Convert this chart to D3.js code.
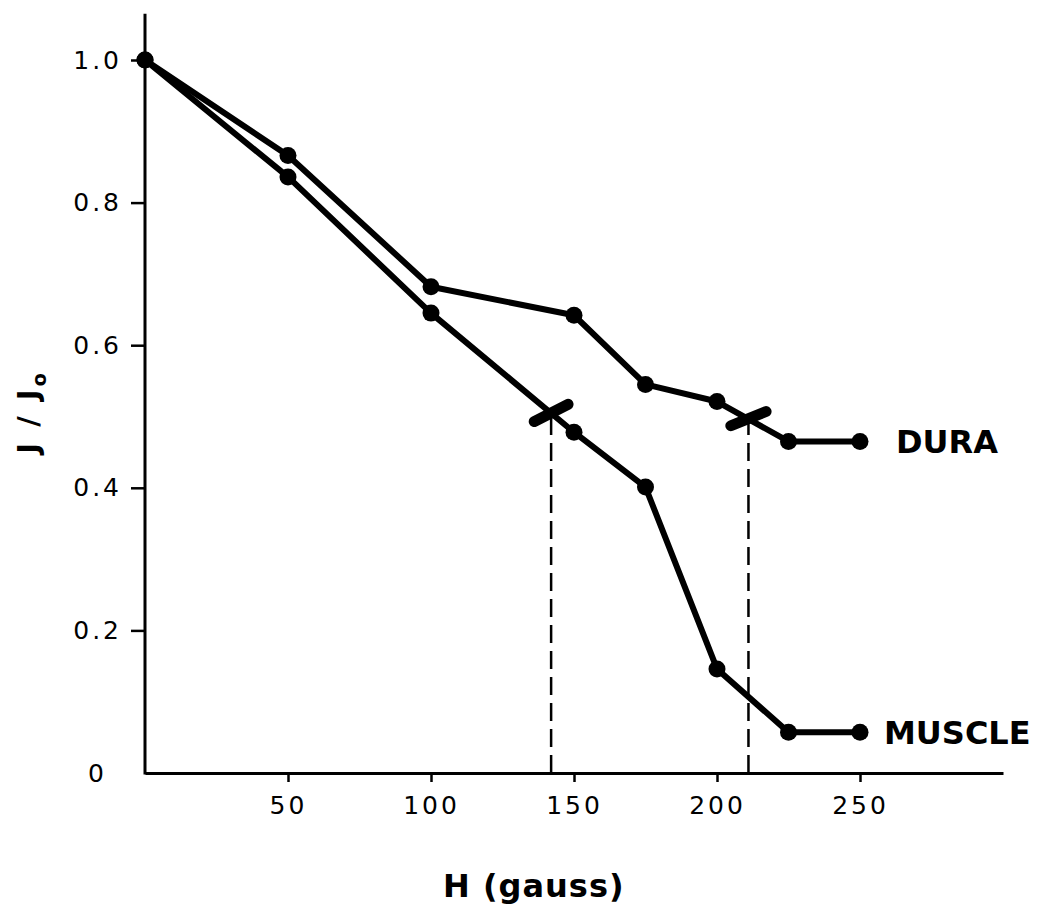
<!DOCTYPE html>
<html>
<head>
<meta charset="utf-8">
<script src="https://cdn.jsdelivr.net/npm/d3@7"></script>
<style>
  html, body { margin: 0; padding: 0; background: #fff; }
  svg { display: block; }
  .tick text { font-family: "DejaVu Sans", sans-serif; }
</style>
</head>
<body>
<div id="chart"></div>
<script>
// ---- data ----
const fieldH = [0, 50, 100, 150, 175, 200, 225, 250];
const dura   = [1.0, 0.866, 0.682, 0.642, 0.545, 0.521, 0.465, 0.465];
const muscle = [1.0, 0.836, 0.645, 0.478, 0.401, 0.146, 0.057, 0.057];
const xTicks = [50, 100, 150, 200, 250];
const yTicks = [0, 0.2, 0.4, 0.6, 0.8, 1.0];
const yTickLabels = ["0", "0.2", "0.4", "0.6", "0.8", "1.0"];
const halfH   = [142, 211];     // half-value field strengths
const halfJ   = [0.505, 0.497]; // J/Jo where the markers sit
const seriesNames = ["DURA", "MUSCLE"];

// ---- layout ----
const W = 1045, H = 909;
const x0 = 145, x1 = 1003;   // pixel range for H 0..300
const yBottom = 773, yTop = 60; // pixel range for J 0..1

const svg = d3.select("#chart").append("svg")
  .attr("width", W).attr("height", H);

const x = d3.scaleLinear().domain([0, 300]).range([x0, x1]);
const y = d3.scaleLinear().domain([0, 1]).range([yBottom, yTop]);

// x axis
const xAxis = svg.append("g")
  .attr("transform", `translate(0,${yBottom})`)
  .call(d3.axisBottom(x).tickValues(xTicks).tickSize(9).tickPadding(14).tickSizeOuter(0));
xAxis.select(".domain").attr("stroke", "#000").attr("stroke-width", 3);
xAxis.selectAll(".tick line").attr("stroke", "#000").attr("stroke-width", 2.5);
xAxis.selectAll(".tick text").attr("font-size", 25).attr("letter-spacing", 3).attr("fill", "#000");

// y axis (extends above 1.0)
const yAxis = svg.append("g")
  .attr("transform", `translate(${x0},0)`)
  .call(d3.axisLeft(y).tickValues(yTicks).tickSize(14).tickPadding(9)
        .tickFormat((d, i) => yTickLabels[i]).tickSizeOuter(0));
yAxis.select(".domain").remove();
yAxis.append("line")
  .attr("x1", 0).attr("x2", 0)
  .attr("y1", y(0) + 1.5).attr("y2", y(1.065))
  .attr("stroke", "#000").attr("stroke-width", 3);
yAxis.selectAll(".tick line").attr("stroke", "#000").attr("stroke-width", 2.5);
yAxis.selectAll(".tick text").attr("font-size", 25).attr("letter-spacing", 3).attr("fill", "#000");
// "0" label sits lower-left, without tick
yAxis.selectAll(".tick").filter(d => d === 0).select("line").remove();
yAxis.selectAll(".tick").filter(d => d === 0).select("text")
  .attr("x", -38).attr("dy", "0.32em");

// dashed drop lines
svg.selectAll("line.drop").data(halfH).enter().append("line")
  .attr("class", "drop")
  .attr("x1", d => x(d)).attr("x2", d => x(d))
  .attr("y1", y(0)).attr("y2", (d, i) => y(halfJ[i]))
  .attr("stroke", "#000").attr("stroke-width", 2.5)
  .attr("stroke-dasharray", "18,8");

// series lines
const line = d3.line().x((d, i) => x(fieldH[i])).y(d => y(d));
[dura, muscle].forEach(s => {
  svg.append("path").datum(s)
    .attr("d", line)
    .attr("fill", "none").attr("stroke", "#000")
    .attr("stroke-width", 6).attr("stroke-linejoin", "round");
  svg.selectAll(null).data(s).enter().append("circle")
    .attr("cx", (d, i) => x(fieldH[i])).attr("cy", d => y(d))
    .attr("r", 8.5).attr("fill", "#000");
});

// hatch markers at half values
const hatchAngle = [-27, -22];
svg.selectAll("line.hatch").data(halfH).enter().append("line")
  .attr("class", "hatch")
  .attr("x1", -19).attr("x2", 19).attr("y1", 0).attr("y2", 0)
  .attr("transform", (d, i) => `translate(${x(d)},${y(halfJ[i])}) rotate(${hatchAngle[i]})`)
  .attr("stroke", "#000").attr("stroke-width", 11).attr("stroke-linecap", "round");

// series labels
const lastIdx = fieldH.length - 1;
svg.selectAll("text.series").data(seriesNames).enter().append("text")
  .attr("class", "series")
  .attr("x", (d, i) => i === 0 ? 896 : 884)
  .attr("y", (d, i) => y([dura, muscle][i][lastIdx]))
  .attr("dy", "0.36em")
  .attr("font-family", "DejaVu Sans, sans-serif")
  .attr("font-weight", "bold").attr("font-size", 32)
  .attr("fill", "#000")
  .text(d => d);

// axis titles
svg.append("text")
  .attr("x", 443).attr("y", 897)
  .attr("font-family", "DejaVu Sans, sans-serif")
  .attr("font-weight", "bold").attr("font-size", 32)
  .attr("letter-spacing", 1)
  .text("H (gauss)");

const yl = svg.append("text")
  .attr("transform", "translate(38,412) rotate(-90)")
  .attr("text-anchor", "middle")
  .attr("font-family", "DejaVu Sans, sans-serif")
  .attr("font-weight", "bold").attr("font-size", 29)
  .attr("letter-spacing", 3);
yl.append("tspan").text("J / J");
yl.append("tspan").attr("font-size", 19).attr("dy", 8).text("o");
</script>
</body>
</html>
